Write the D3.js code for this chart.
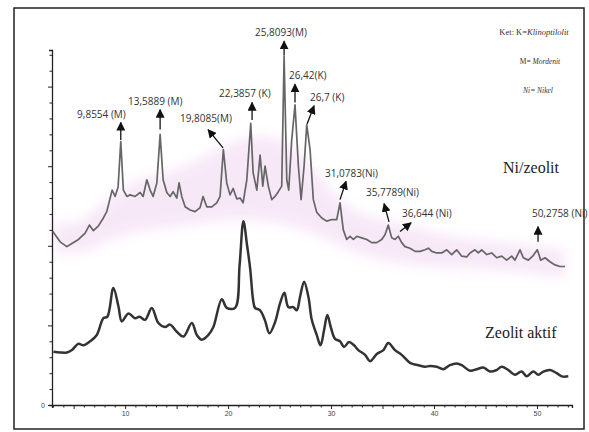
<!DOCTYPE html>
<html>
<head>
<meta charset="utf-8">
<title>XRD Ni/zeolit</title>
<style>
  body { margin: 0; background: #fff; }
  .axis path, .axis line { stroke: #222; }
  .axis text { font-family: "Liberation Sans", sans-serif; font-size: 7px; fill: #444; }
  .peak-label { font-family: "Open Sans", sans-serif; font-size: 10px; fill: #333; }
  .legend { font-family: "Liberation Serif", serif; fill: #333; }
  .series-name { font-family: "Liberation Serif", serif; font-size: 16px; fill: #222; }
</style>
</head>
<body>
<script src="https://d3js.org/d3.v7.min.js"></script>
<script>
// ---- data (2 theta, intensity) ----
var niTheta = [2.98,3.69,4.34,4.83,5.47,6.12,6.53,6.92,7.41,7.89,8.22,8.74,9.03,9.32,9.58,9.83,10.17,10.49,10.97,11.46,
  11.75,12.11,12.43,12.72,13.08,13.40,13.69,14.05,14.37,14.66,15.02,15.24,15.50,15.83,16.31,16.80,17.28,17.57,17.93,18.42,
  18.90,19.22,19.54,19.87,20.19,20.49,20.84,21.17,21.46,21.82,22.20,22.43,22.79,23.11,23.37,23.59,23.91,24.24,24.56,24.88,
  25.21,25.44,25.70,25.89,26.18,26.50,26.83,27.09,27.38,27.64,27.96,28.28,28.61,29.10,29.58,30.07,30.55,30.87,31.19,31.52,
  31.84,32.17,32.50,32.98,33.47,33.95,34.44,34.92,35.24,35.56,35.89,36.21,36.53,36.86,37.18,37.67,38.16,38.64,39.13,39.45,
  39.78,40.26,40.75,41.23,41.72,42.20,42.69,43.17,43.50,43.98,44.30,44.63,45.12,45.60,46.09,46.57,47.06,47.54,47.86,48.35,
  48.67,49.16,49.58,50.03,50.36,50.78,51.26,51.75,52.23,52.72];
var niCounts = [218,205,199,203,208,216,226,219,225,235,243,270,262,274,331,270,262,264,262,267,
  262,283,270,262,279,340,283,267,262,268,260,279,262,249,245,243,248,262,249,249,
  254,262,321,279,264,272,259,260,254,283,354,292,270,314,275,300,275,258,262,268,
  275,438,283,270,333,377,300,258,300,352,321,258,242,235,231,233,233,254,220,208,
  212,208,212,210,208,204,204,208,214,226,210,208,212,204,199,197,193,193,195,197,
  193,191,191,195,189,195,187,186,191,195,191,195,189,191,185,187,182,187,182,195,
  185,182,187,195,182,185,180,176,174,174];

var zTheta = [3.04,3.69,4.34,4.83,5.47,5.95,6.60,7.25,7.89,8.28,8.86,9.35,9.68,10.32,10.97,11.39,11.94,12.59,13.23,13.88,
  14.37,15.02,15.66,16.48,16.96,17.45,18.09,18.57,19.39,19.87,20.68,21.12,21.49,21.84,22.14,22.43,22.62,23.11,23.59,24.01,
  24.56,25.05,25.47,25.85,26.34,26.67,26.99,27.38,27.80,28.13,28.61,28.98,29.32,29.64,29.97,30.39,30.87,31.26,31.75,32.23,
  32.65,33.30,33.79,34.44,35.08,35.56,36.21,36.86,37.67,38.48,39.13,39.61,40.26,40.90,41.55,42.20,42.69,43.50,44.15,44.79,
  45.44,46.09,46.57,47.21,47.86,48.51,49.00,49.64,50.13,50.61,51.26,51.91,52.40,53.04];
var zCounts = [67,66,66,69,77,75,80,88,109,111,147,124,105,115,109,111,107,122,103,98,
  101,92,86,103,88,82,88,98,133,122,122,176,231,201,172,132,122,119,106,90,
  104,128,141,123,123,119,136,155,136,107,88,75,94,113,98,83,80,73,79,75,
  69,63,55,64,69,78,69,63,53,50,48,49,48,45,50,52,50,43,45,47,
  42,44,48,44,38,42,36,42,38,42,44,40,36,36];

// pink highlight band behind Ni/zeolit
var bandTheta = [3.2,5.63,7.57,10.49,15.34,20.19,25.05,28.93,31.84,36.70,41.55,46.41,52.72];
var bandHigh = [230,226,252,283,293,333,346,289,239,230,210,205,195];
var bandLow = [192,189,201,218,223,235,230,214,192,176,172,170,160];

// peak labels: text, text position, arrow from -> to (all in 2theta / counts)
var peakLabels = ["9,8554 (M)","13,5889 (M)","19,8085(M)","22,3857 (K)","25,8093(M)","26,42(K)","26,7 (K)",
  "31,0783(Ni)","35,7789(Ni)","36,644 (Ni)","50,2758 (Ni)"];
var labelAt = [[5.34,361],[10.29,377],[15.34,355],[19.13,387],[22.62,463],[25.92,409],[27.96,382],
  [29.42,287],[33.40,262],[36.89,236],[49.51,236]];
var arrowFrom = [[9.58,333],[13.40,346],[19.51,323],[22.33,358],[25.44,439],[26.50,380],[27.67,353],
  [30.87,258],[35.63,230],[36.70,218],[50.10,205]];
var arrowTo = [[9.58,355],[13.40,371],[18.06,346],[22.33,380],[25.44,457],[26.50,403],[28.35,376],
  [31.46,281],[35.15,253],[37.77,229],[50.10,224]];

var xLabels = [10, 20, 30, 40, 50];

/*********************************
 * Scales
 *********************************/
var x = d3.scaleLinear().domain([2.9, 53.4]).range([52, 572]);
var y = d3.scaleLinear().domain([0, 446]).range([405, 50]);

var svg = d3.select("body").append("svg")
    .attr("width", 589)
    .attr("height", 432);

var defs = svg.append("defs");
defs.append("filter").attr("id", "soft")
    .attr("x", "-10%").attr("y", "-30%").attr("width", "120%").attr("height", "160%")
    .append("feGaussianBlur").attr("stdDeviation", 6);
defs.append("marker")
    .attr("id", "head")
    .attr("markerUnits", "userSpaceOnUse")
    .attr("viewBox", "0 0 10 10")
    .attr("refX", 9).attr("refY", 5)
    .attr("markerWidth", 9).attr("markerHeight", 9)
    .attr("orient", "auto")
    .append("path")
    .attr("d", "M0,0 L10,5 L0,10 Z")
    .attr("fill", "#111");

// frame
svg.append("rect")
    .attr("x", 14).attr("y", 8)
    .attr("width", 570).attr("height", 421)
    .attr("fill", "#fff")
    .attr("stroke", "#222")
    .attr("stroke-width", 1.5);

// pink band
var band = bandTheta.map(function(t, i) { return [t, bandLow[i], bandHigh[i]]; });
svg.append("path")
    .datum(band)
    .attr("d", d3.area()
        .x(function(d) { return x(d[0]); })
        .y0(function(d) { return y(d[1]); })
        .y1(function(d) { return y(d[2]); })
        .curve(d3.curveBasis))
    .attr("fill", "#ecc8ec")
    .attr("opacity", 0.4)
    .attr("filter", "url(#soft)");

/*********************************
 * Axes
 *********************************/
var xAxis = d3.axisBottom(x)
    .tickValues(d3.range(3, 54, 1))
    .tickSize(3)
    .tickPadding(3)
    .tickFormat(function(d) { return xLabels.indexOf(d) >= 0 ? d : ""; });

var gx = svg.append("g").attr("class", "axis")
    .attr("transform", "translate(0,405)")
    .call(xAxis);
gx.select(".domain").attr("stroke-width", 1.3);
gx.selectAll(".tick line").attr("y2", function(d) { return d % 5 === 0 ? 4 : 2.5; });

var yAxis = d3.axisLeft(y)
    .tickValues(d3.range(0, 441, 20))
    .tickSize(3)
    .tickPadding(4)
    .tickFormat(function(d) { return d === 0 ? "0" : ""; });

var gy = svg.append("g").attr("class", "axis")
    .attr("transform", "translate(52,0)")
    .call(yAxis);
gy.select(".domain").attr("stroke-width", 1.3);
gy.selectAll(".tick line").attr("x2", function(d) { return d % 100 === 0 ? -4 : -2.5; });

/*********************************
 * Curves
 *********************************/
var niData = niTheta.map(function(t, i) { return [t, niCounts[i]]; });
var zData = zTheta.map(function(t, i) { return [t, zCounts[i]]; });

svg.append("path")
    .datum(zData)
    .attr("d", d3.line()
        .x(function(d) { return x(d[0]); })
        .y(function(d) { return y(d[1]); })
        .curve(d3.curveCatmullRom.alpha(0.5)))
    .attr("fill", "none")
    .attr("stroke", "#333")
    .attr("stroke-width", 2.5)
    .attr("stroke-linejoin", "round");

svg.append("path")
    .datum(niData)
    .attr("d", d3.line()
        .x(function(d) { return x(d[0]); })
        .y(function(d) { return y(d[1]); }))
    .attr("fill", "none")
    .attr("stroke", "#666")
    .attr("stroke-width", 1.7)
    .attr("stroke-linejoin", "round");

/*********************************
 * Peak annotations
 *********************************/
svg.selectAll("line.arrow")
    .data(arrowFrom)
    .enter()
    .append("line")
    .attr("class", "arrow")
    .attr("x1", function(d) { return x(d[0]); })
    .attr("y1", function(d) { return y(d[1]); })
    .attr("x2", function(d, i) { return x(arrowTo[i][0]); })
    .attr("y2", function(d, i) { return y(arrowTo[i][1]); })
    .attr("stroke", "#111")
    .attr("stroke-width", 1.3)
    .attr("marker-end", "url(#head)");

svg.selectAll("text.peak-label")
    .data(peakLabels)
    .enter()
    .append("text")
    .attr("class", "peak-label")
    .attr("x", function(d, i) { return x(labelAt[i][0]); })
    .attr("y", function(d, i) { return y(labelAt[i][1]); })
    .text(function(d) { return d; });

// legend (Ket)
var leg1 = svg.append("text").attr("class", "legend")
    .attr("x", 534).attr("y", 35).attr("text-anchor", "middle").attr("font-size", 8.5);
leg1.append("tspan").text("Ket: K=");
leg1.append("tspan").attr("font-style", "italic").text("Klinoptilolit");

var leg2 = svg.append("text").attr("class", "legend")
    .attr("x", 540).attr("y", 64).attr("text-anchor", "middle").attr("font-size", 7.5);
leg2.append("tspan").text("M= ");
leg2.append("tspan").attr("font-style", "italic").text("Mordenit");

var leg3 = svg.append("text").attr("class", "legend")
    .attr("x", 538).attr("y", 93).attr("text-anchor", "middle").attr("font-size", 7.5)
    .attr("font-style", "italic");
leg3.append("tspan").text("Ni= Nikel");

svg.append("text").attr("class", "series-name")
    .attr("x", 503).attr("y", 173).text("Ni/zeolit");
svg.append("text").attr("class", "series-name")
    .attr("x", 485).attr("y", 338).attr("font-size", 15.5).text("Zeolit aktif");
</script>
</body>
</html>
